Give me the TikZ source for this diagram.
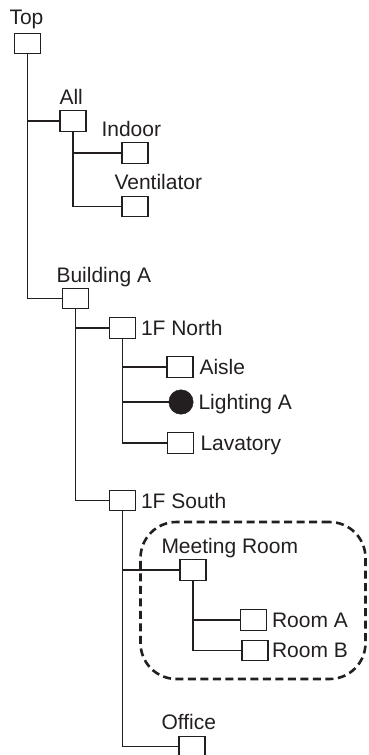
\documentclass[tikz,border=0pt]{standalone}
\usepackage{fontspec}
\setmainfont{Liberation Sans}
\begin{document}
\begin{tikzpicture}[x=1pt,y=-1pt,
  every node/.style={inner sep=0pt, outer sep=0pt},
  ibox/.style={draw=ink, line width=1.4pt, fill=white, minimum width=26pt, minimum height=20.5pt},
  idot/.style={circle, draw=ink, fill=ink, minimum size=24.5pt},
  lbl/.style={anchor=base west, text=ink, font=\fontsize{21}{24}\selectfont},
  conn/.style={draw=ink, line width=1.4pt},
  groupbox/.style={draw=ink, line width=2.6pt, dash pattern=on 8pt off 4.5pt, rounded corners=36pt}]
\definecolor{ink}{HTML}{231F20}
\useasboundingbox (0,0) rectangle (368,755);
% group
\node[groupbox, minimum width=225pt, minimum height=157pt] (grp) at (253,600.5) {};
% boxes
\node[ibox] (top) at (27.5,43.5) {};
\node[ibox] (all) at (73,121) {};
\node[ibox] (indoor) at (135,153) {};
\node[ibox] (vent) at (135,206.5) {};
\node[ibox] (bldg) at (75.5,298.5) {};
\node[ibox] (north) at (122.5,328) {};
\node[ibox] (aisle) at (180,367) {};
\node[idot] (light) at (181,402) {};
\node[ibox] (lav) at (180.5,443) {};
\node[ibox] (south) at (122.5,500.5) {};
\node[ibox] (meet) at (193,570) {};
\node[ibox] (rooma) at (253.5,620) {};
\node[ibox] (roomb) at (255,650.5) {};
\node[ibox] (office) at (192,746.5) {};
% connectors
\draw[conn] (top.south) |- (all.west);
\draw[conn] (top.south) |- (bldg.west);
\draw[conn] (all.south) |- (indoor.west);
\draw[conn] (all.south) |- (vent.west);
\draw[conn] (bldg.south) |- (north.west);
\draw[conn] (bldg.south) |- (south.west);
\draw[conn] (north.south) |- (aisle.west);
\draw[conn] (north.south) |- (light.west);
\draw[conn] (north.south) |- (lav.west);
\draw[conn] (south.south) |- (meet.west);
\draw[conn] (south.south) |- (office.west);
\draw[conn] (meet.south) |- (rooma.west);
\draw[conn] (meet.south) |- (roomb.west);
% labels
\node[lbl] (ltop) at (9.5,24) {Top};
\node[lbl] (lall) at (59.5,104) {All};
\node[lbl] (lindoor) at (101.5,136) {Indoor};
\node[lbl] (lvent) at (114.5,189) {Ventilator};
\node[lbl] (lbldg) at (56.5,282) {Building A};
\node[lbl] (lnorth) at (141,335) {1F North};
\node[lbl] (laisle) at (199.5,374.5) {Aisle};
\node[lbl] (llight) at (198.5,409) {Lighting A};
\node[lbl] (llav) at (200.5,450) {Lavatory};
\node[lbl] (lsouth) at (141,508) {1F South};
\node[lbl] (lmeet) at (161.5,553) {Meeting Room};
\node[lbl] (lrooma) at (272,627.5) {Room A};
\node[lbl] (lroomb) at (272,657.5) {Room B};
\node[lbl] (loffice) at (161.5,729) {Office};
\end{tikzpicture}
\end{document}
